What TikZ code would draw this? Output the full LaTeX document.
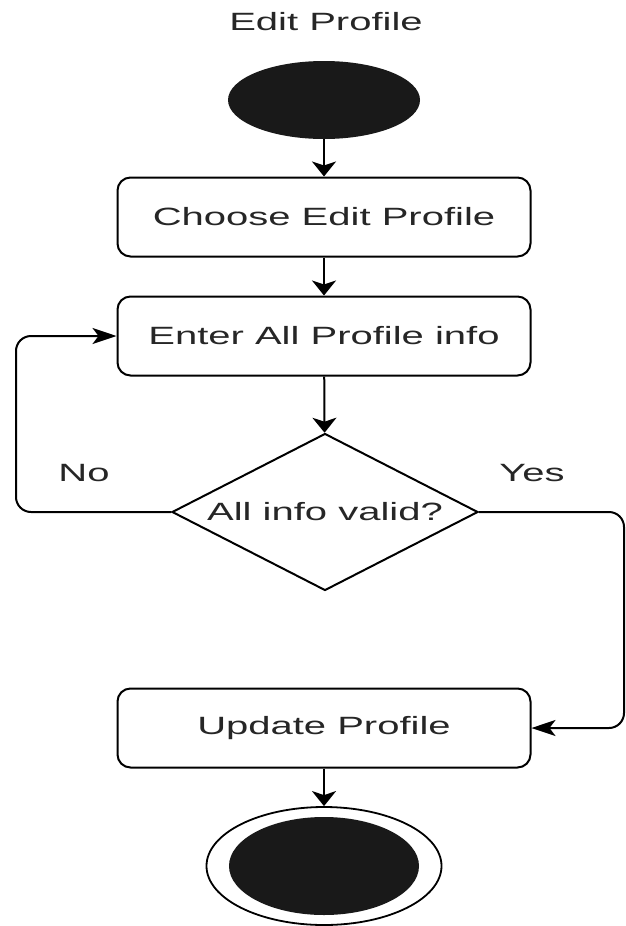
\documentclass[tikz,border=0pt]{standalone}
\usepackage{fontspec}
\setmainfont{Liberation Sans}[FakeStretch=1.6]
\usepackage{tikz}
\usetikzlibrary{shapes.geometric,arrows.meta}

\begin{document}
\begin{tikzpicture}[
		x=1pt, y=-1pt,
		every node/.style={font=\fontsize{25}{30}\selectfont, text=black!85},
		action/.style={rectangle, draw, rounded corners=13pt, line width=2pt, minimum width=413pt, minimum height=79pt, inner sep=0pt},
		choice/.style={diamond, draw, line width=2pt, aspect=1.95, minimum width=306pt, minimum height=157pt, inner sep=0pt},
		down/.style={line width=2pt, -{Stealth[length=15pt,width=24pt,inset=4pt]}},
		side/.style={line width=2pt, rounded corners=15pt, -{Stealth[length=24pt,width=16pt,inset=6pt]}}]
		\useasboundingbox (0,0) rectangle (626,926);
		\node (title) at (326,22) {Edit Profile};
		\node[ellipse, fill=black!90, minimum width=192pt, minimum height=78pt] (start) at (324,100) {};
		\node[action] (choose) at (324,217) {Choose Edit Profile};
		\node[action] (enter) at (324,336) {Enter All Profile info};
		\node[choice] (check) at (325,512) {All info valid?};
		\node[action] (update) at (324,728) {Update Profile};
		\node[ellipse, draw, line width=1.8pt, minimum width=235pt, minimum height=118pt] (stop) at (324,866) {};
		\node[ellipse, fill=black!90, minimum width=190pt, minimum height=98pt] (stopin) at (324,866) {};
		\node (no) at (84,473) {No};
		\node (yes) at (532,473) {Yes};
		\coordinate (lft) at (16,512);
		\coordinate (rgt) at (624,512);
		\draw[down] (start) -- (choose);
		\draw[down] (choose) -- (enter);
		\draw[down] (enter) -- (check);
		\draw[down] (update) -- (stop);
		\draw[side] (check.west) -- (lft) |- (enter.west);
		\draw[side] (check.east) -- (rgt) |- (update.east);
\end{tikzpicture}
\end{document}
